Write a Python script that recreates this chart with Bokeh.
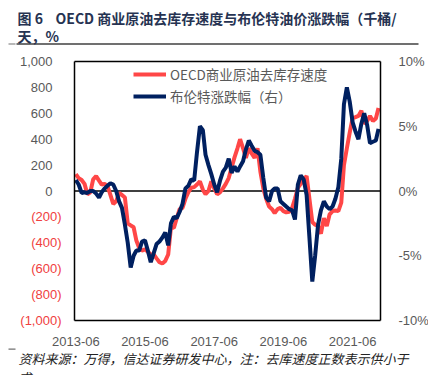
import pandas as pd
from bokeh.plotting import figure
from bokeh.models import (Range1d, LinearAxis, FixedTicker, Label,
                          Legend, LegendItem, DatetimeTickFormatter, ColumnDataSource)
from bokeh.embed import file_html
from bokeh.resources import INLINE

# ---------------- data ----------------
months = pd.date_range("2013-06-01", periods=106, freq="MS")

oecd = [131, 100, 85, 55, -25, -10, 90, 115, 80, 50,
        55, 40, -30, -100, -80, -15, -30, -50, -250, -265,
        -280, -380, -440, -460, -450, -470, -490, -490, -520, -550,
        -560, -540, -490, -280, -285, -210, -140, -130, -60, -10,
        25, 30, 50, 75, 10, -25, 0, 75, 20, -25,
        -10, 20, 55, 100, 180, 260, 330, 400, 330, 255,
        330, 290, 255, 330, 150, 20, -60, -120, -140, -170,
        -140, -130, -155, -165, -160, -130, -60, 25, 55, 90,
        115, -55, -240, -260, -270, -330, -210, -270, -180, -155,
        -150, -155, -90, 200, 330, 450, 565, 570, 580, 620,
        520, 540, 580, 540, 560, 640]

brent = [0.85, 0.5, -0.15, -0.1, -0.15, 0.0, 0.0, -0.2, -0.5, -0.1,
         0.2, 0.4, 0.6, 0.5, 0.0, -0.8, -1.3, -2.6, -4.0, -5.9,
         -5.0, -4.6, -4.6, -3.9, -3.8, -4.6, -5.5, -4.8, -4.1, -3.9,
         -3.6, -3.2, -4.2, -2.5, -2.0, -2.1, -1.6, -1.0, 0.2, 0.4,
         0.9, 0.8, 3.0, 5.0, 4.7, 2.8, 2.0, 1.3, 0.5, -0.1,
         0.8, 1.5, 1.8, 2.5, 1.4, 1.9, 1.5, 1.9, 2.3, 3.2,
         3.9, 3.5, 3.1, 3.0, 2.8, 1.0, -0.5, -0.8, 0.0, 0.2,
         0.2, -0.8, -1.0, -1.2, -1.4, -1.5, -2.2, 0.5, 1.2, 0.9,
         -0.3, -3.5, -7.0, -5.0, -2.6, -1.5, -0.8, -1.2, -1.4, -1.2,
         -0.6, 0.3, 2.5, 6.7, 8.0, 6.9, 5.3, 4.6, 4.0, 5.2,
         6.0, 5.1, 3.7, 3.8, 3.9, 4.8]

x_tick_labels = ["2013-06", "2015-06", "2017-06", "2019-06", "2021-06"]
left_pos_ticks = [0, 200, 400, 600, 800, 1000]
left_pos_labels = ["0", "200", "400", "600", "800", "1,000"]
left_neg_ticks = [-200, -400, -600, -800, -1000]
left_neg_labels = ["(200)", "(400)", "(600)", "(800)", "(1,000)"]
right_ticks = [-10, -5, 0, 5, 10]
right_labels = ["-10%", "-5%", "0%", "5%", "10%"]

series_names = ["OECD商业原油去库存速度", "布伦特涨跌幅（右）"]
title_1a = "图 6"
title_1b = "OECD 商业原油去库存速度与布伦特油价涨跌幅（千桶/"
title_2 = "天，%"
source_1 = "资料来源：万得，信达证券研发中心，注：去库速度正数表示供小于"
source_2 = "求"

# ---------------- styling / geometry ----------------
RED = "#FF4747"
NAVY = "#002060"
GRAY = "#595959"
NEG_RED = "#F04040"
TITLE_C = "#263352"
W, H = 428, 375
FL, FR, FT, FB = 74, 380, 61, 320      # plot box in page pixels

def ms(ts):
    return pd.Timestamp(ts).value / 1e6

d0 = ms("2013-05-18")
d1 = ms("2022-03-22")
Y0, Y1 = -1000, 1000
P0, P1 = -10, 10

kx = (d1 - d0) / (FR - FL)
ky = (Y1 - Y0) / (FB - FT)
kp = (P1 - P0) / (FB - FT)

def xv(px):
    return d0 + (px - FL) * kx

def yv(py):
    return Y1 - (py - FT) * ky

# the frame covers the whole page; the plot box is a sub-region of it
p = figure(width=W, height=H, x_axis_type="datetime",
           x_range=Range1d(xv(0), xv(W)), y_range=Range1d(yv(H), yv(0)),
           output_backend="svg", toolbar_location=None,
           min_border=0, min_border_left=0, min_border_right=0,
           min_border_top=0, min_border_bottom=0)
p.xgrid.visible = False
p.ygrid.visible = False
p.outline_line_color = None
p.background_fill_color = "white"
p.border_fill_color = "white"
p.extra_y_ranges = {"pct": Range1d(P0 - (H - FB) * kp, P1 + FT * kp)}

src = ColumnDataSource(dict(x=months, oecd=oecd, brent=brent))

# zero line (under the series)
p.segment(x0=[d0], y0=[0], x1=[d1], y1=[0], line_color="black", line_width=1.5)

r_red = p.line("x", "oecd", source=src, line_color=RED, line_width=4)
r_blue = p.line("x", "brent", source=src, line_color=NAVY, line_width=4,
                y_range_name="pct")

# plot box
p.segment(x0=[d0, d0, d0, d1], y0=[Y0, Y1, Y0, Y0],
          x1=[d1, d1, d0, d1], y1=[Y0, Y1, Y1, Y1],
          line_color="black", line_width=1.5)

# rule under the title and the small marks
p.segment(x0=[xv(16)], y0=[yv(43.5)], x1=[xv(418)], y1=[yv(43.5)],
          line_color="#404040", line_width=1.4)
p.segment(x0=[xv(8)], y0=[yv(43.5)], x1=[xv(15)], y1=[yv(43.5)],
          line_color="#A0A0A0", line_width=1.4)
p.segment(x0=[xv(8)], y0=[yv(348.6)], x1=[xv(15)], y1=[yv(348.6)],
          line_color="#707070", line_width=1.3)

# x axis
xa = p.xaxis[0]
xa.fixed_location = Y0
xa.ticker = FixedTicker(ticks=[ms(t + "-01") for t in x_tick_labels])
fmt = "%Y-%m"
xa.formatter = DatetimeTickFormatter(years=fmt, months=fmt, days=fmt,
                                     hours=fmt, minutes=fmt)
xa.major_label_standoff = 10

# left axis (positive labels, grey)
ya = p.yaxis[0]
ya.fixed_location = d0
ya.ticker = FixedTicker(ticks=left_pos_ticks)
ya.major_label_overrides = {t: l for t, l in zip(left_pos_ticks, left_pos_labels)}
ya.major_label_standoff = 16

# right axis
ra = LinearAxis(y_range_name="pct", ticker=FixedTicker(ticks=right_ticks),
                fixed_location=d1)
ra.major_label_overrides = {t: l for t, l in zip(right_ticks, right_labels)}
ra.major_label_standoff = 12
p.add_layout(ra, "right")

for ax in [xa, ya, ra]:
    ax.major_label_text_font = "Liberation Sans"
    ax.major_label_text_font_size = "13px"
    ax.major_label_text_color = GRAY
    ax.axis_line_color = None
    ax.major_tick_line_color = None
    ax.minor_tick_line_color = None

# negative left labels in red (accounting style)
for t, l in zip(left_neg_ticks, left_neg_labels):
    p.add_layout(Label(x=d0, y=t, x_offset=-13, text=l, text_align="right",
                       text_baseline="middle", text_color=NEG_RED,
                       text_font="Liberation Sans", text_font_size="13px"))

def lab(px, py, text, **kw):
    p.add_layout(Label(x=px, y=H - py, x_units="screen", y_units="screen",
                       text=text, text_baseline="middle", **kw))

# title
tkw = dict(text_font="Noto Sans CJK SC", text_font_style="bold",
           text_font_size="14px", text_color=TITLE_C)
lab(17, 17, title_1a, **tkw)
lab(55, 17, title_1b, **tkw)
lab(17, 35, title_2, **tkw)

# source note
skw = dict(text_font="Noto Sans CJK SC", text_font_style="italic",
           text_font_size="13px", text_color="#222222")
lab(18, 358, source_1, **skw)
lab(18, 377, source_2, **skw)

# legend (added last)
legend = Legend(items=[LegendItem(label=series_names[0], renderers=[r_red]),
                       LegendItem(label=series_names[1], renderers=[r_blue])],
                location=(133, H - 63 - 44),
                glyph_width=33, glyph_height=22, label_height=22,
                label_standoff=4, spacing=0, padding=0, margin=0,
                label_text_font="Noto Sans CJK SC", label_text_font_size="13.5px",
                label_text_color=GRAY, border_line_alpha=0,
                background_fill_alpha=0, level="overlay")
p.add_layout(legend)

open("out.html", "w").write(file_html(p, INLINE))
